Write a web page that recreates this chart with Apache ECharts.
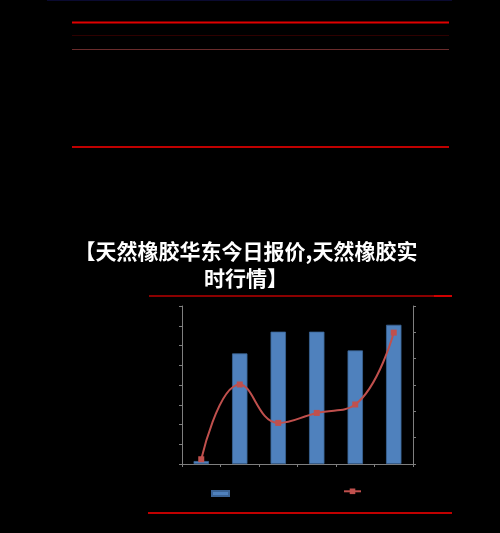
<!DOCTYPE html>
<html>
<head>
<meta charset="utf-8">
<script src="https://cdn.jsdelivr.net/npm/echarts@6/dist/echarts.min.js"></script>
<style>
html,body{margin:0;padding:0;background:#000;}
#c{width:500px;height:533px;}
</style>
</head>
<body>
<div id="c"></div>
<script>
const categories = ['1', '2', '3', '4', '5', '6'];
const barName = '数量';
const lineName = '价格';
const barValues = [0.15, 5.6, 6.7, 6.7, 5.75, 7.05];
const lineValues = [0.18, 3.02, 1.56, 1.94, 2.26, 4.99];
const titleText = '【天然橡胶华东今日报价,天然橡胶实\n时行情】';

const chart = echarts.init(document.getElementById('c'));
const axisCol = '#7f7f7f';
function hline(x1, x2, y, color, w) {
  return { type: 'line', shape: { x1: x1, y1: y, x2: x2, y2: y }, style: { stroke: color, lineWidth: w }, silent: true };
}
chart.setOption({
  backgroundColor: '#000',
  animation: false,
  title: {
    text: titleText,
    left: 241,
    top: 233,
    textAlign: 'center',
    textStyle: {
      color: '#fff',
      fontSize: 21,
      fontWeight: 'bold',
      lineHeight: 27,
      fontFamily: 'Noto Sans CJK SC'
    }
  },
  graphic: [
    hline(47, 452, 0.5, '#0a0a30', 1),
    hline(72, 449, 22.5, '#e00000', 2),
    hline(72, 449, 35.5, '#2e0000', 1),
    hline(72, 449, 49.5, '#6a2c2c', 1),
    hline(72, 449, 147, '#c00000', 2),
    hline(149, 452, 296, '#8b0000', 2),
    hline(434, 452, 296, '#d00000', 2),
    hline(148, 452, 513, '#c00000', 2)
  ],
  legend: [
    {
      data: [{ name: barName, icon: 'rect' }],
      left: 211, top: 490, padding: 0,
      itemWidth: 17, itemHeight: 5,
      textStyle: { color: '#000', fontSize: 4 }
    },
    {
      data: [lineName],
      left: 343, top: 488.5, padding: 0,
      itemWidth: 17, itemHeight: 7,
      textStyle: { color: '#000', fontSize: 4 }
    }
  ],
  grid: { left: 182, right: 87, top: 306, bottom: 69, containLabel: false },
  xAxis: {
    type: 'category',
    data: categories,
    axisLine: { lineStyle: { color: axisCol, width: 1 } },
    axisTick: { show: true, length: 3, lineStyle: { color: axisCol } },
    axisLabel: { show: false }
  },
  yAxis: [
    {
      type: 'value', min: 0, max: 8, interval: 1,
      axisLine: { show: true, lineStyle: { color: axisCol } },
      axisTick: { show: true, length: 3, lineStyle: { color: axisCol } },
      axisLabel: { show: false },
      splitLine: { show: false }
    },
    {
      type: 'value', min: 0, max: 6, interval: 1,
      position: 'right',
      axisLine: { show: true, lineStyle: { color: axisCol } },
      axisTick: { show: true, length: 3, lineStyle: { color: axisCol } },
      axisLabel: { show: false },
      splitLine: { show: false }
    }
  ],
  series: [
    {
      name: barName,
      type: 'bar',
      data: barValues,
      barWidth: '40%',
      yAxisIndex: 0,
      itemStyle: { color: '#4f81bd', borderColor: '#3b6496', borderWidth: 0.8 }
    },
    {
      name: lineName,
      type: 'line',
      data: lineValues,
      yAxisIndex: 1,
      smooth: 0.45,
      symbol: 'rect',
      symbolSize: 6,
      lineStyle: { color: '#c0504d', width: 2 },
      itemStyle: { color: '#c0504d' }
    }
  ]
});
</script>
</body>
</html>
